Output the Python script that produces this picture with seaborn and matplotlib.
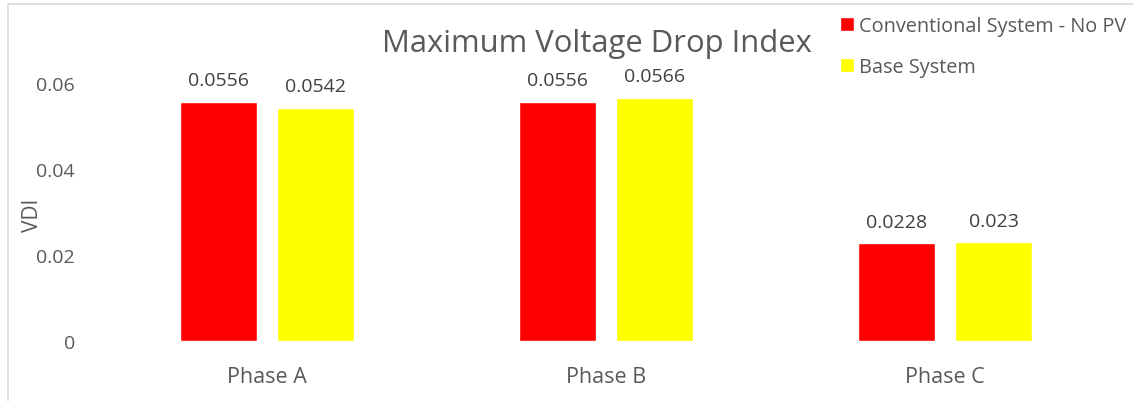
import matplotlib
matplotlib.use("Agg")
import matplotlib.pyplot as plt
import seaborn as sns
import pandas as pd
from matplotlib.patches import Rectangle

phases = ["Phase A", "Phase B", "Phase C"]
series_names = ["Conventional System - No PV", "Base System"]
conventional = [0.0556, 0.0556, 0.0228]
base = [0.0542, 0.0566, 0.023]
label_texts = [["0.0556", "0.0556", "0.0228"], ["0.0542", "0.0566", "0.023"]]

df = pd.DataFrame({
    "Phase": phases * 2,
    "System": [series_names[0]] * 3 + [series_names[1]] * 3,
    "VDI": conventional + base,
})

sns.set_theme(style="white")
plt.rcParams["font.family"] = ["Open Sans", "DejaVu Sans"]

fig = plt.figure(figsize=(11.33, 4.02), dpi=100)
ax = fig.add_axes([0.0856, 0.149, 0.8985, 0.749])

sns.barplot(data=df, x="Phase", y="VDI", hue="System",
            palette=["#FF0000", "#FFFF00"], width=0.572, gap=0.206,
            ax=ax, legend=True, saturation=1)

for cont, labs in zip(ax.containers, label_texts):
    ax.bar_label(cont, labels=labs, padding=9, fontsize=14, color="#404040")

ax.set_xlim(-0.5, 2.5)
ax.set_ylim(0, 0.07)
ax.set_yticks([0, 0.02, 0.04, 0.06])
ax.set_yticklabels(["0", "0.02", "0.04", "0.06"])
ax.tick_params(axis="y", length=0, pad=16, labelsize=14, labelcolor="#595959")
ax.tick_params(axis="x", length=0, pad=18, labelsize=15.5, labelcolor="#595959")
ax.set_xlabel("")
ax.set_ylabel("VDI", fontsize=15, color="#595959")
ax.yaxis.set_label_coords(-0.053, 0.42)
for s in ax.spines.values():
    s.set_visible(False)

leg = ax.legend(loc="upper left", bbox_to_anchor=(0.712, 1.14), frameon=False,
                fontsize=14.3, handlelength=0.7, handleheight=0.7,
                handletextpad=0.25, labelspacing=1.05)
for t in leg.get_texts():
    t.set_color("#595959")

fig.text(0.527, 0.89, "Maximum Voltage Drop Index", ha="center", va="center",
         fontsize=22.3, color="#595959")

fig.patches.append(Rectangle((0.007, -0.01), 1.1, 0.998, transform=fig.transFigure,
                             fill=False, edgecolor="#D9D9D9", linewidth=1.2))

fig.savefig("out.png", dpi=100)
